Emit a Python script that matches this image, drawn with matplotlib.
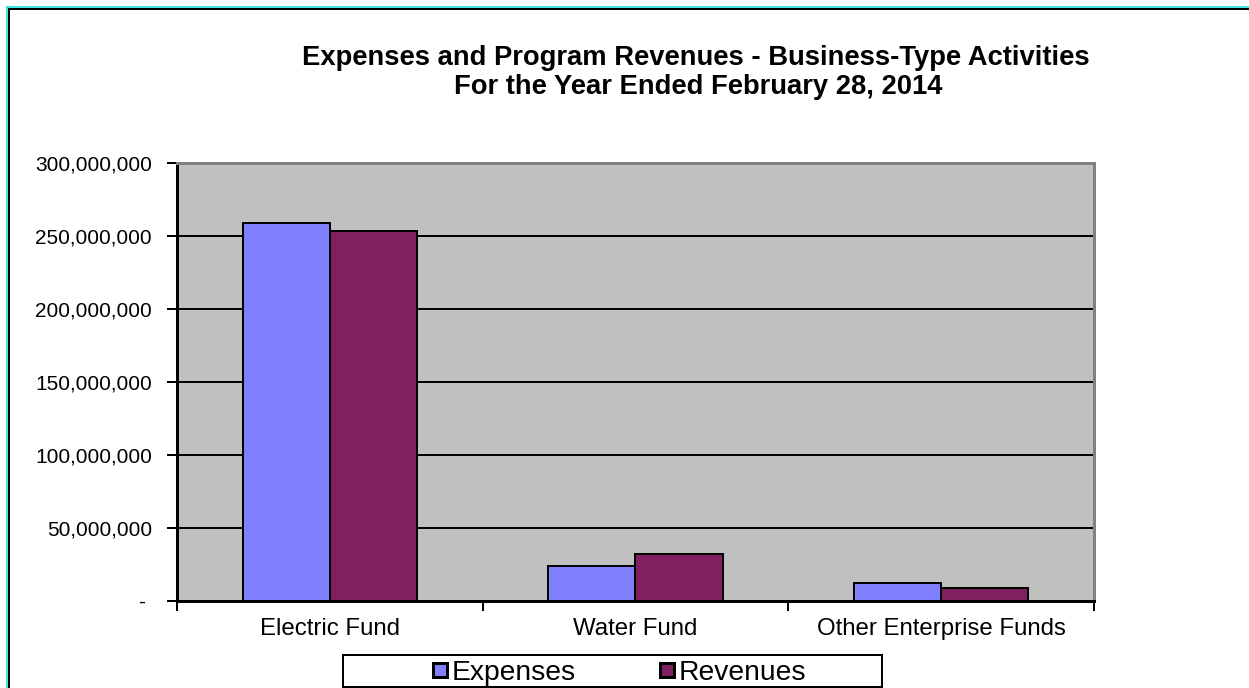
import numpy as np
import matplotlib
matplotlib.use('Agg')
import matplotlib.pyplot as plt
from matplotlib.lines import Line2D
from matplotlib.patches import Rectangle
from matplotlib.ticker import FuncFormatter, MultipleLocator

# -----------------------------------------------------------------------
# data
categories = ['Electric Fund', 'Water Fund', 'Other Enterprise Funds']
expenses = [258900000, 24000000, 12300000]
revenues = [253400000, 32200000, 8600000]
series_names = ['Expenses', 'Revenues']
title_lines = ['Expenses and Program Revenues - Business-Type Activities',
               'For the Year Ended February 28, 2014']
# -----------------------------------------------------------------------

plt.rcParams['font.family'] = ['Liberation Sans', 'DejaVu Sans']

W, H = 1249, 688
PX = 0.72   # points per pixel at dpi 100

fig = plt.figure(figsize=(W / 100, H / 100), dpi=100)
fig.patch.set_facecolor('white')

ax = fig.add_axes([177 / W, 1 - 601 / H, (1094 - 177) / W, (601 - 163) / H])
ax.set_facecolor('#C0C0C0')

col_exp = '#8080FF'
col_rev = '#802060'
bw = 0.285
xc = np.arange(len(categories)) + 0.5

ax.bar(xc - bw / 2, expenses, bw, color=col_exp, edgecolor='black',
       linewidth=2 * PX, zorder=3)
ax.bar(xc + bw / 2, revenues, bw, color=col_rev, edgecolor='black',
       linewidth=2 * PX, zorder=3)

ax.set_xlim(0, len(categories))
ax.set_ylim(0, 300000000)
ax.yaxis.set_major_locator(MultipleLocator(50000000))
ax.yaxis.set_major_formatter(FuncFormatter(
    lambda v, p: '- ' if v == 0 else '{:,.0f}'.format(v)))
ax.yaxis.grid(True, color='black', linewidth=2 * PX, zorder=1)
ax.set_axisbelow(True)

# category labels at group centres, tick marks at group boundaries
ax.set_xticks(xc)
ax.set_xticklabels(categories, fontsize=17.3)
ax.set_xticks(np.arange(len(categories) + 1), minor=True)
ax.tick_params(axis='x', which='major', length=0, pad=12)
ax.tick_params(axis='x', which='minor', length=7, width=2 * PX,
               direction='out', color='black')
ax.tick_params(axis='y', length=7, width=2 * PX, direction='out',
               color='black', pad=11, labelsize=15)

for side in ['left', 'bottom']:
    ax.spines[side].set_color('black')
    ax.spines[side].set_linewidth(3 * PX)
for side in ['top', 'right']:
    ax.spines[side].set_color('#808080')
    ax.spines[side].set_linewidth(3 * PX)

fig.text(696 / W, 1 - 58 / H, title_lines[0], ha='center', va='center',
         fontsize=19.7, fontweight='bold')
fig.text(698 / W, 1 - 87 / H, title_lines[1], ha='center', va='center',
         fontsize=19.7, fontweight='bold')

# legend with a square-cornered frame
handles = [Line2D([], [], linestyle='none', marker='s', markersize=9.5,
                  markerfacecolor=c, markeredgecolor='black',
                  markeredgewidth=3 * PX)
           for c in (col_exp, col_rev)]
fig.legend(handles, series_names, loc='center left',
           bbox_to_anchor=(432 / W, 1 - 673 / H), ncol=2, frameon=False,
           fontsize=20.3, handlelength=0.55, handletextpad=0.15,
           columnspacing=2.95, borderpad=0, borderaxespad=0)
fig.add_artist(Rectangle((343 / W, 1 - 687 / H), 539 / W, 32 / H,
                         transform=fig.transFigure, fill=False,
                         edgecolor='black', linewidth=2 * PX))

# outer chart frame
fig.add_artist(Line2D([6.5 / W, 6.5 / W], [0, 1 - 6.5 / H], color='#00E0E0',
                      linewidth=1.5 * PX, transform=fig.transFigure))
fig.add_artist(Line2D([6.5 / W, 1], [1 - 6.5 / H, 1 - 6.5 / H],
                      color='#00E0E0', linewidth=1.5 * PX,
                      transform=fig.transFigure))
fig.add_artist(Line2D([8.5 / W, 8.5 / W], [0, 1 - 8.5 / H], color='black',
                      linewidth=2 * PX, transform=fig.transFigure))
fig.add_artist(Line2D([8.5 / W, 1], [1 - 8.5 / H, 1 - 8.5 / H],
                      color='black', linewidth=2 * PX,
                      transform=fig.transFigure))

fig.savefig('out.png', dpi=100)
